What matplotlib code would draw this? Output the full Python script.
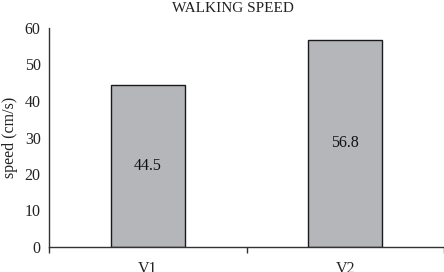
import matplotlib
matplotlib.use("Agg")
import matplotlib.pyplot as plt
import numpy as np

categories = ["V1", "V2"]
values = [44.5, 56.8]
value_labels = ["44.5", "56.8"]
yticks = [0, 10, 20, 30, 40, 50, 60]

plt.rcParams['font.family'] = ['Liberation Serif', 'DejaVu Serif']

fig = plt.figure(figsize=(4.44, 2.72), dpi=100)
ax = fig.add_axes([49/444, 1-247/272, 395/444, 219/272])

x = np.arange(len(categories))
bars = ax.bar(x, values, width=0.377, color='#b5b6ba', edgecolor='#1a1a1a', linewidth=1.0)
for xi, v, lab in zip(x, values, value_labels):
    ax.text(xi, v/2, lab, ha='center', va='center', fontsize=11.5, color='#111111')

ax.set_xlim(-0.5, len(categories)-0.5)
ax.set_ylim(0, 60)
ax.set_yticks(yticks)
ax.set_yticklabels([str(t) for t in yticks], fontsize=11.5)
ax.tick_params(axis='y', length=0, pad=6, colors='#222222')
ax.set_xticks(x)
ax.set_xticklabels(categories, fontsize=11.5)
ax.set_xticks(np.arange(-0.5, len(categories), 1.0), minor=True)
ax.tick_params(axis='x', which='major', length=0, pad=10, colors='#222222')
ax.tick_params(axis='x', which='minor', length=4, width=1, color='#333333', direction='out')

for s in ['top', 'right']:
    ax.spines[s].set_visible(False)
for s in ['left', 'bottom']:
    ax.spines[s].set_color('#333333')
    ax.spines[s].set_linewidth(1.0)

ax.set_ylabel('speed (cm/s)', fontsize=11.5, labelpad=5, color='#222222')
fig.text(233/444, 1-8/272, 'WALKING SPEED', ha='center', va='center', fontsize=11, color='#222222')

fig.savefig('out.png', dpi=100)
